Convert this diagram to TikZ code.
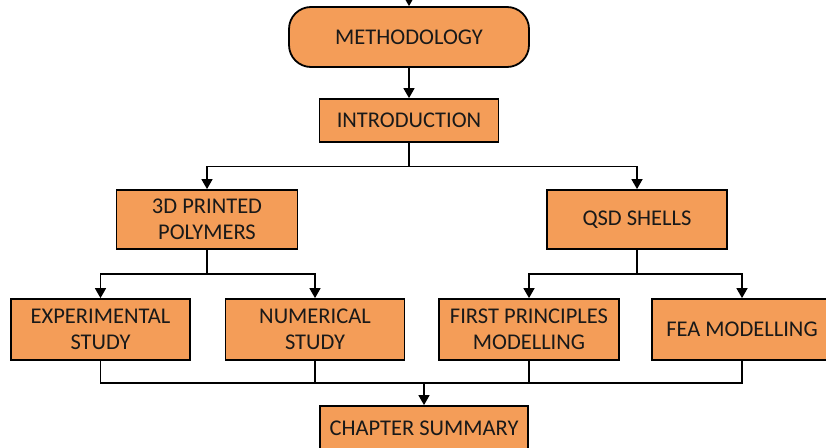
\documentclass[tikz,border=0pt]{standalone}
\usepackage{fontspec}
\setmainfont{Carlito}
\usetikzlibrary{arrows.meta}
\definecolor{boxfill}{RGB}{244,157,88}
\begin{document}
\begin{tikzpicture}[x=1pt,y=-1pt,
  box/.style={draw=black, line width=1.8pt, fill=boxfill, inner sep=0pt,
    align=center, font=\fontsize{22.5}{26}\selectfont, text=black!90},
  link/.style={line width=1.6pt, line join=miter},
  arr/.style={link, -{Triangle[length=10pt,width=11pt]}}]
\clip (0,0) rectangle (826,447);
\useasboundingbox (0,0) rectangle (826,447);

% boxes
\node[box, rounded corners=22pt, minimum width=240, minimum height=60] (meth) at (409,37) {METHODOLOGY};
\node[box, minimum width=179, minimum height=43] (intro) at (409,120.5) {INTRODUCTION};
\node[box, minimum width=181, minimum height=59] (poly) at (207,219.5) {3D PRINTED\\POLYMERS};
\node[box, minimum width=180, minimum height=59] (qsd) at (637,219.5) {QSD SHELLS};
\node[box, minimum width=179, minimum height=61] (exp) at (100.5,329.5) {EXPERIMENTAL\\STUDY};
\node[box, minimum width=179, minimum height=61] (num) at (315,329.5) {NUMERICAL\\STUDY};
\node[box, minimum width=180, minimum height=61] (fp) at (529,329.5) {FIRST PRINCIPLES\\MODELLING};
\node[box, minimum width=180, minimum height=61] (fea) at (742,329.5) {FEA MODELLING};
\node[box, minimum width=208, minimum height=44] (summ) at (424,428) {CHAPTER SUMMARY};

% connectors
\coordinate (entry) at (409,-5);
\draw[arr] (entry) -- (meth.north);
\draw[arr] (meth.south) -- (intro.north);
\draw[arr] (intro.south) -- ++(0,23.5) -| (poly.north);
\draw[arr] (intro.south) -- ++(0,23.5) -| (qsd.north);
\draw[arr] (poly.south) -- ++(0,24) -| (exp.north);
\draw[arr] (poly.south) -- ++(0,24) -| (num.north);
\draw[arr] (qsd.south) -- ++(0,24) -| (fp.north);
\draw[arr] (qsd.south) -- ++(0,24) -| (fea.north);

\coordinate (bus) at (424,383);
\draw[link] (exp.south) -- (exp.south |- bus) -- (fea.south |- bus) -- (fea.south);
\draw[link] (num.south) -- (num.south |- bus);
\draw[link] (fp.south) -- (fp.south |- bus);
\draw[arr] (bus) -- (summ.north);
\end{tikzpicture}
\end{document}
